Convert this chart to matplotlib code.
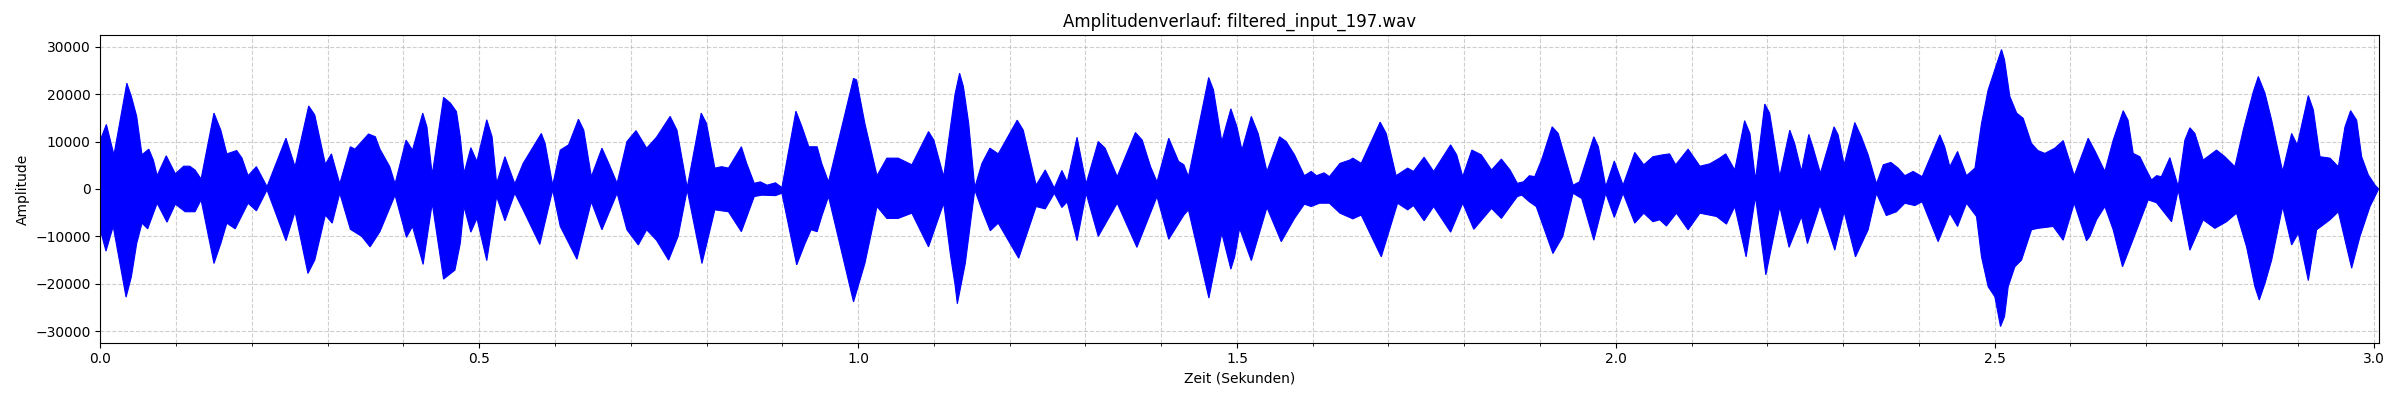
import numpy as np
import matplotlib
matplotlib.use("Agg")
import matplotlib.pyplot as plt
from matplotlib.ticker import MultipleLocator

title = "Amplitudenverlauf: filtered_input_197.wav"
duration = 3.0067

# Upper envelope of the waveform (time in s, amplitude)
t_upper = [0.000, 0.008, 0.018, 0.035, 0.041, 0.048, 0.055, 0.064, 0.070, 0.075, 0.087, 0.099,
           0.110, 0.118, 0.125, 0.133, 0.150, 0.159, 0.167, 0.180, 0.187, 0.195, 0.206, 0.220,
           0.245, 0.257, 0.275, 0.283, 0.297, 0.305, 0.316, 0.330, 0.336, 0.354, 0.363, 0.369,
           0.382, 0.389, 0.4035, 0.412, 0.4255, 0.431, 0.438, 0.453, 0.462, 0.470, 0.475, 0.480,
           0.489, 0.497, 0.510, 0.517, 0.523, 0.534, 0.547, 0.558, 0.582, 0.587, 0.597, 0.607,
           0.618, 0.631, 0.638, 0.648, 0.662, 0.671, 0.682, 0.695, 0.707, 0.721, 0.734, 0.752,
           0.761, 0.7745, 0.793, 0.800, 0.811, 0.820, 0.829, 0.846, 0.853, 0.863, 0.871, 0.880,
           0.891, 0.8995, 0.918, 0.926, 0.935, 0.946, 0.952, 0.961, 0.994, 0.998, 1.009, 1.025,
           1.038, 1.053, 1.071, 1.093, 1.100, 1.113, 1.122, 1.128, 1.134, 1.139, 1.146, 1.154,
           1.1635, 1.174, 1.185, 1.210, 1.218, 1.235, 1.247, 1.259, 1.269, 1.276, 1.289, 1.301,
           1.317, 1.326, 1.342, 1.366, 1.375, 1.386, 1.3945, 1.410, 1.423, 1.430, 1.436, 1.4627,
           1.469, 1.480, 1.492, 1.500, 1.5066, 1.519, 1.528, 1.5396, 1.5563, 1.565, 1.576, 1.589,
           1.598, 1.605, 1.615, 1.622, 1.636, 1.649, 1.653, 1.664, 1.689, 1.697, 1.710, 1.7253,
           1.733, 1.747, 1.7596, 1.782, 1.790, 1.798, 1.810, 1.8225, 1.836, 1.849, 1.8604, 1.870,
           1.878, 1.886, 1.893, 1.902, 1.916, 1.924, 1.9436, 1.952, 1.971, 1.977, 1.9867, 1.998,
           2.0096, 2.025, 2.0369, 2.049, 2.062, 2.071, 2.079, 2.0954, 2.111, 2.124, 2.137, 2.145,
           2.157, 2.170, 2.177, 2.1843, 2.1966, 2.203, 2.2164, 2.2296, 2.236, 2.245, 2.2547, 2.260,
           2.270, 2.288, 2.2934, 2.3013, 2.3154, 2.324, 2.333, 2.344, 2.353, 2.363, 2.3726, 2.3814,
           2.3924, 2.4043, 2.4276, 2.434, 2.4408, 2.451, 2.4628, 2.474, 2.4826, 2.4914, 2.509, 2.513,
           2.520, 2.529, 2.5376, 2.5486, 2.557, 2.5662, 2.5794, 2.5904, 2.605, 2.6234, 2.633, 2.6454,
           2.6564, 2.6696, 2.676, 2.6828, 2.6916, 2.698, 2.707, 2.7136, 2.720, 2.7312, 2.7422, 2.751,
           2.7576, 2.7642, 2.7752, 2.7928, 2.8038, 2.817, 2.828, 2.8413, 2.8479, 2.8567, 2.8655, 2.872,
           2.880, 2.8919, 2.8993, 2.9139, 2.9205, 2.9293, 2.9425, 2.9535, 2.9623, 2.9697, 2.9777, 2.9843,
           2.993, 3.002, 3.0067]
v_upper = [10300, 13600, 7200, 22300, 19500, 15300, 7200, 8400, 6100, 2800, 7000, 3200,
           4800, 4800, 4000, 2100, 16000, 12400, 7400, 8100, 6500, 2800, 4700, 500,
           10700, 4700, 17500, 15600, 5200, 7400, 1100, 8900, 8400, 11600, 11000, 8400,
           4700, 1100, 10300, 8200, 16000, 13100, 3000, 19300, 18100, 16300, 11000, 3300,
           8700, 5800, 14600, 11000, 1200, 6800, 1100, 5400, 11700, 9600, 800, 8200,
           9300, 14700, 12400, 2600, 8600, 5400, 1200, 10000, 12300, 8600, 10900, 15300,
           12400, 300, 16000, 13800, 4400, 4700, 4400, 8900, 5400, 1200, 1500, 800,
           1300, 300, 16400, 13100, 8900, 8900, 5400, 1500, 23300, 23000, 13800, 2800,
           6500, 6500, 5100, 12100, 10300, 2600, 13100, 20000, 24400, 21600, 13800, 300,
           5400, 8600, 7400, 14500, 12400, 800, 4000, 200, 3900, 1500, 10900, 1100,
           10000, 8600, 2600, 11900, 10300, 4700, 1500, 10700, 5800, 5100, 2600, 23500,
           20900, 10000, 16900, 13100, 8200, 15300, 11700, 3700, 11000, 10000, 7200, 2800,
           3700, 2800, 3400, 2600, 5400, 6100, 6500, 5400, 14100, 11700, 2800, 4400,
           3700, 6700, 3700, 9300, 7200, 2600, 8200, 7200, 4000, 6300, 4000, 1200,
           1500, 2800, 2600, 6100, 13100, 11700, 800, 1500, 11000, 8900, 500, 5900,
           800, 7700, 5100, 6800, 7200, 7400, 5100, 8400, 4800, 5300, 6500, 7400,
           4000, 14400, 11700, 1900, 17900, 16000, 2600, 12400, 9600, 3700, 11500, 8900,
           3300, 13100, 11400, 5100, 14000, 11000, 7200, 1100, 5100, 5600, 4400, 2800,
           3700, 2600, 11400, 8900, 4700, 7900, 2800, 4400, 13800, 20900, 29400, 27200,
           19500, 16000, 14900, 9600, 8100, 7500, 8600, 10200, 2800, 10700, 7800, 3700,
           10300, 16500, 14500, 7500, 6800, 4700, 1900, 2800, 2600, 6600, 500, 10300,
           12900, 11700, 6100, 8200, 6800, 4700, 12400, 20500, 23700, 20200, 14500, 9600,
           3700, 11700, 9300, 19700, 16700, 6800, 6500, 4700, 13100, 16500, 14500, 6800,
           3000, 800, 0]

# Lower envelope of the waveform (time in s, amplitude)
t_lower = [0.000, 0.0075, 0.017, 0.034, 0.041, 0.048, 0.055, 0.0625, 0.075, 0.088, 0.099, 0.112,
           0.125, 0.133, 0.150, 0.159, 0.167, 0.178, 0.195, 0.206, 0.220, 0.245, 0.257, 0.274,
           0.283, 0.297, 0.306, 0.316, 0.330, 0.345, 0.356, 0.369, 0.389, 0.404, 0.412, 0.426,
           0.438, 0.453, 0.468, 0.475, 0.480, 0.489, 0.497, 0.510, 0.523, 0.534, 0.547, 0.558,
           0.580, 0.597, 0.607, 0.629, 0.648, 0.662, 0.682, 0.695, 0.710, 0.721, 0.734, 0.750,
           0.7625, 0.7745, 0.794, 0.811, 0.829, 0.846, 0.863, 0.873, 0.891, 0.8995, 0.919, 0.930,
           0.938, 0.946, 0.952, 0.961, 0.994, 1.009, 1.025, 1.038, 1.053, 1.071, 1.093, 1.113,
           1.122, 1.128, 1.131, 1.1415, 1.154, 1.1635, 1.1745, 1.185, 1.212, 1.235, 1.247, 1.259,
           1.269, 1.276, 1.289, 1.301, 1.317, 1.342, 1.368, 1.3945, 1.410, 1.430, 1.436, 1.463,
           1.480, 1.492, 1.497, 1.5035, 1.519, 1.5396, 1.5585, 1.576, 1.589, 1.598, 1.609, 1.622,
           1.636, 1.653, 1.664, 1.6905, 1.712, 1.7253, 1.733, 1.747, 1.7596, 1.782, 1.798, 1.8126,
           1.836, 1.849, 1.870, 1.876, 1.886, 1.895, 1.917, 1.930, 1.9436, 1.955, 1.971, 1.9867,
           1.998, 2.0096, 2.025, 2.0369, 2.049, 2.058, 2.0668, 2.080, 2.0954, 2.111, 2.133, 2.146,
           2.157, 2.172, 2.1843, 2.198, 2.2164, 2.2287, 2.245, 2.2529, 2.2695, 2.289, 2.3013, 2.3163,
           2.333, 2.344, 2.357, 2.3704, 2.3814, 2.3946, 2.4043, 2.4254, 2.4408, 2.451, 2.4628, 2.476,
           2.4826, 2.4914, 2.5002, 2.5077, 2.513, 2.5178, 2.5266, 2.5354, 2.5486, 2.557, 2.5772, 2.5904,
           2.605, 2.6212, 2.6256, 2.6344, 2.6454, 2.6564, 2.6687, 2.6806, 2.6916, 2.7026, 2.7136, 2.7334,
           2.7422, 2.7576, 2.7752, 2.7906, 2.806, 2.8192, 2.8324, 2.8434, 2.8492, 2.8567, 2.8655, 2.880,
           2.8919, 2.9007, 2.9139, 2.9249, 2.9425, 2.9535, 2.9711, 2.9821, 2.9953, 3.0067]
v_lower = [-8600, -13100, -7900, -22800, -18500, -11500, -7200, -8400, -3000, -7000, -3200, -4800,
           -4800, -2300, -15700, -11500, -7200, -8400, -3000, -4600, -200, -10900, -4800, -17800,
           -15000, -5500, -7200, -900, -8500, -10000, -12200, -9000, -1300, -10200, -7900, -15900,
           -3000, -19000, -17100, -11500, -3700, -9100, -6200, -15100, -1600, -6700, -900, -4400,
           -11700, -200, -7900, -14800, -2700, -8600, -900, -8600, -11800, -8600, -10800, -15000,
           -10000, -200, -15700, -4400, -4800, -9000, -1600, -1300, -1400, -900, -16000, -11500,
           -8600, -9000, -5800, -1600, -23800, -15700, -3700, -6200, -6200, -5100, -12200, -3000,
           -14000, -20200, -24200, -15700, -200, -4400, -8800, -7200, -14600, -3700, -4200, -900,
           -3900, -2700, -10900, -900, -10000, -3000, -12300, -1600, -10600, -5500, -4400, -23000,
           -9300, -16900, -14300, -8300, -15100, -3900, -11100, -6200, -3200, -3700, -3000, -3000,
           -5100, -6300, -5500, -14300, -3000, -4400, -3500, -6700, -3700, -9100, -3000, -8500,
           -4100, -6200, -1600, -1300, -2700, -3700, -13600, -10000, -900, -2000, -10800, -900,
           -6000, -900, -7200, -5100, -6900, -6500, -7800, -5100, -8600, -5100, -5800, -7400,
           -3700, -14300, -1600, -18100, -3700, -12300, -5800, -11500, -3400, -12900, -4800, -14300,
           -8600, -900, -5600, -4800, -3000, -3500, -2700, -11100, -5100, -7900, -3000, -5800,
           -14300, -20600, -22700, -29000, -26900, -20600, -16400, -15000, -8600, -8300, -7900, -10800,
           -3000, -10900, -10000, -6500, -3700, -8600, -16400, -11500, -6900, -2300, -2900, -6900,
           -200, -12900, -6500, -8300, -6900, -5100, -12200, -20600, -23400, -19900, -15000, -3700,
           -11800, -9300, -19300, -8600, -6500, -4800, -16700, -10000, -3700, 0]

fig = plt.figure(figsize=(24, 4), dpi=100)
ax = fig.add_axes([0.0418, 0.1433, 0.9493, 0.7685])

poly_t = np.concatenate([np.asarray(t_upper), np.asarray(t_lower)[::-1]])
poly_v = np.concatenate([np.asarray(v_upper), np.asarray(v_lower)[::-1]])
ax.fill(poly_t, poly_v, color="blue", edgecolor="blue", linewidth=0.8, zorder=2)

ax.set_xlim(0, duration)
ax.set_ylim(-32400, 32400)
ax.xaxis.set_major_locator(MultipleLocator(0.5))
ax.xaxis.set_minor_locator(MultipleLocator(0.1))
ax.yaxis.set_major_locator(MultipleLocator(10000))
ax.grid(True, which="both", linestyle="--", alpha=0.6, zorder=0)
ax.set_axisbelow(True)

ax.set_title(title)
ax.set_xlabel("Zeit (Sekunden)")
ax.set_ylabel("Amplitude")

fig.savefig("out.png", dpi=100)
